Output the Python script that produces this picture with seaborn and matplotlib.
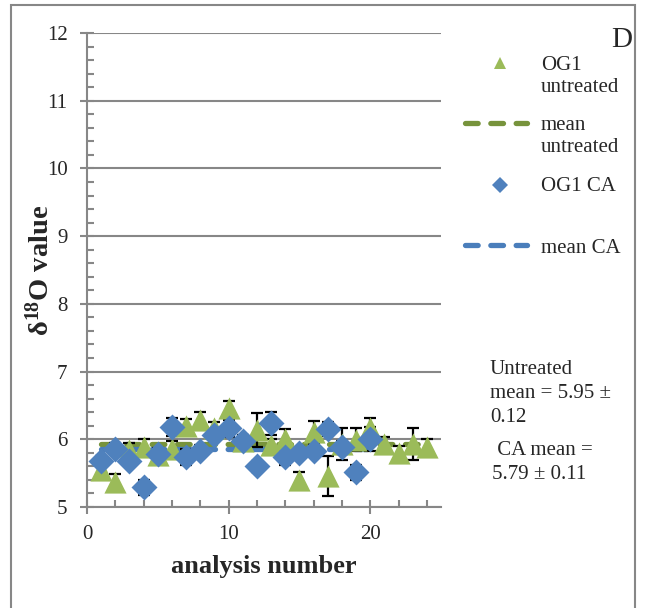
import numpy as np
import pandas as pd
import matplotlib
matplotlib.use("Agg")
import matplotlib.pyplot as plt
import seaborn as sns
from matplotlib.lines import Line2D
from matplotlib.patches import Rectangle
from matplotlib.ticker import MultipleLocator

# data
analysis_untreated = list(range(1, 25))
d18o_untreated = [5.55, 5.37, 5.84, 5.89, 5.77, 5.86, 6.20, 6.28, 6.16, 6.46,
                  5.97, 6.14, 5.91, 6.01, 5.40, 6.11, 5.46, 5.93, 5.99, 6.16,
                  5.93, 5.80, 5.93, 5.88]
err_untreated = [0.10, 0.12, 0.10, 0.11, 0.10, 0.12, 0.10, 0.12, 0.10, 0.11,
                 0.10, 0.25, 0.10, 0.14, 0.11, 0.16, 0.30, 0.23, 0.17, 0.15,
                 0.10, 0.10, 0.23, 0.12]

analysis_ca = list(range(1, 21))
d18o_ca = [5.68, 5.86, 5.68, 5.29, 5.78, 6.18, 5.74, 5.83, 6.06, 6.16,
           5.97, 5.60, 6.24, 5.74, 5.80, 5.83, 6.15, 5.88, 5.51, 6.00]
err_ca = [0.08, 0.08, 0.08, 0.11, 0.08, 0.13, 0.12, 0.08, 0.09, 0.13,
          0.08, 0.08, 0.17, 0.12, 0.08, 0.08, 0.10, 0.10, 0.11, 0.18]

mean_untreated = 5.93
mean_ca = 5.86

untreated = pd.DataFrame({"analysis": analysis_untreated, "d18O": d18o_untreated})
ca = pd.DataFrame({"analysis": analysis_ca, "d18O": d18o_ca})

GREEN = "#9BBB59"
GREEN_DARK = "#77933C"
BLUE = "#4F81BD"
BLUE_LINE = "#4A7EBB"
GRAY = "#878787"

sns.set_style("white")
plt.rcParams["font.family"] = ["Liberation Serif", "DejaVu Serif"]
plt.rcParams["mathtext.fontset"] = "custom"
plt.rcParams["mathtext.rm"] = "Liberation Serif:bold"
plt.rcParams["mathtext.it"] = "Liberation Serif:bold"
plt.rcParams["mathtext.bf"] = "Liberation Serif:bold"
plt.rcParams["mathtext.default"] = "rm"

W, H = 645, 608


def fx(x):
    return x / W


def fy(y):
    return 1 - y / H


fig = plt.figure(figsize=(W / 100, H / 100), dpi=100)
ax = fig.add_axes([fx(87), fy(507), (441 - 87) / W, (507 - 33) / H])

dash = (0, (2.4, 2.4))

# mean lines
ml = ax.hlines(mean_untreated, analysis_untreated[0], analysis_untreated[-1],
               colors=GREEN_DARK, linewidth=3.8, linestyles=dash, zorder=1)
ml.set_capstyle("round")
mc = ax.hlines(mean_ca, analysis_ca[0], analysis_ca[-1],
               colors=BLUE_LINE, linewidth=3.8, linestyles=dash, zorder=1)
mc.set_capstyle("round")

# error bars
ax.errorbar(analysis_untreated, d18o_untreated, yerr=err_untreated, fmt="none",
            ecolor="black", elinewidth=1.6, capsize=4.5, capthick=1.6, zorder=2)
ax.errorbar(analysis_ca, d18o_ca, yerr=err_ca, fmt="none",
            ecolor="black", elinewidth=1.6, capsize=4.5, capthick=1.6, zorder=2)

sns.scatterplot(data=untreated, x="analysis", y="d18O", marker="^", s=255,
                color=GREEN, linewidth=0, zorder=3, ax=ax, legend=False)
sns.scatterplot(data=ca, x="analysis", y="d18O", marker="D", s=175,
                color=BLUE, linewidth=0, zorder=4, ax=ax, legend=False)

ax.set_xlim(0, 25)
ax.set_ylim(5, 12)
ax.set_xticks([0, 10, 20])
ax.xaxis.set_minor_locator(MultipleLocator(2))
ax.yaxis.set_major_locator(MultipleLocator(1))
ax.yaxis.set_minor_locator(MultipleLocator(0.2))
ax.tick_params(axis="x", which="major", direction="inout", length=10, width=1.5,
               color=GRAY, labelsize=15, pad=8)
ax.tick_params(axis="y", which="major", direction="inout", length=10, width=1.5,
               color=GRAY, labelsize=15, pad=9)
ax.tick_params(which="minor", direction="in", length=5, width=1.5, color=GRAY)
ax.tick_params(which="both", bottom=True, left=True)

ax.yaxis.grid(True, which="major", color=GRAY, linewidth=1.5)
ax.set_axisbelow(True)
for side in ["top", "right"]:
    ax.spines[side].set_visible(False)
for side in ["left", "bottom"]:
    ax.spines[side].set_color(GRAY)
    ax.spines[side].set_linewidth(1.5)

ax.set_xlabel("analysis number", fontsize=19, fontweight="bold")
ax.xaxis.set_label_coords(0.5, -(555 - 507) / 474)
ax.set_ylabel(r"δ$^{18}$O value", fontsize=20.5, fontweight="bold", va="center")
ax.yaxis.set_label_coords(-(87 - 40) / 354, 0.5)

# outer frame
fig.add_artist(Rectangle((fx(11), -0.05), (635 - 11) / W, fy(5) + 0.05,
                         transform=fig.transFigure, fill=False,
                         edgecolor=GRAY, linewidth=1.5))

# legend keys
fig.add_artist(Line2D([fx(500)], [fy(63)], marker="^", markersize=9, color=GREEN,
                      markeredgewidth=0, linestyle="none", transform=fig.transFigure))
fig.add_artist(Line2D([fx(465), fx(527)], [fy(123), fy(123)], color=GREEN_DARK,
                      linewidth=3.8, linestyle=dash, dash_capstyle="round",
                      transform=fig.transFigure))
fig.add_artist(Line2D([fx(500)], [fy(185)], marker="D", markersize=8, color=BLUE,
                      markeredgewidth=0, linestyle="none", transform=fig.transFigure))
fig.add_artist(Line2D([fx(465), fx(527)], [fy(245), fy(245)], color=BLUE_LINE,
                      linewidth=3.8, linestyle=dash, dash_capstyle="round",
                      transform=fig.transFigure))

legend_kw = dict(fontsize=15, va="top", ha="left", linespacing=1.25)
fig.text(fx(541), fy(55.7), "OG1\nuntreated", **legend_kw)
fig.text(fx(541), fy(115.7), "mean\nuntreated", **legend_kw)
fig.text(fx(541), fy(177.4), "OG1 CA", **legend_kw)
fig.text(fx(541), fy(238.7), "mean CA", **legend_kw)

note_kw = dict(fontsize=15, va="top", ha="left", linespacing=1.35)
fig.text(fx(490), fy(359.7), "Untreated\nmean = 5.95 ±\n0.12", **note_kw)
fig.text(fx(492), fy(440.7), " CA mean =\n5.79 ± 0.11", **note_kw)

fig.text(fx(611), fy(46.7), "D", fontsize=21, va="baseline", ha="left")

fig.savefig("out.png", dpi=100)
